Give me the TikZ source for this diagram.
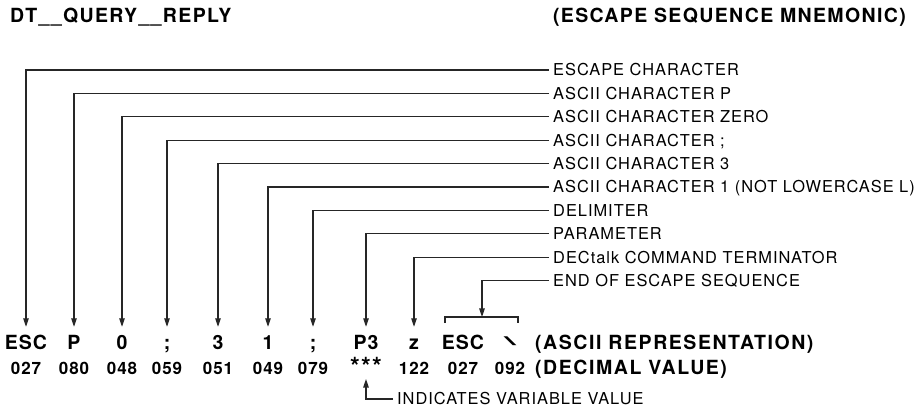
\documentclass[tikz,border=0pt]{standalone}
\usepackage{fontspec}
\setmainfont{TeX Gyre Heros}
\newfontfamily\labfont[LetterSpace=6]{TeX Gyre Heros}
\newfontfamily\rowfont[LetterSpace=5]{TeX Gyre Heros}
\newfontfamily\rlfont[LetterSpace=8]{TeX Gyre Heros}
\newfontfamily\ttlfont[LetterSpace=7]{TeX Gyre Heros}
\usetikzlibrary{arrows.meta}
\begin{document}
\begin{tikzpicture}[x=1pt,y=-1pt,
  conn/.style={line width=1.1pt, draw=black!85},
  arr/.style={conn, -{Triangle[length=8.5pt,width=5.5pt]}},
  ttl/.style={font=\ttlfont\bfseries\fontsize{19.5}{20}\selectfont, inner sep=0pt},
  lab/.style={font=\labfont\fontsize{16.4}{17}\selectfont, anchor=west, text height=11.8pt, text depth=0pt, inner xsep=4pt, inner ysep=0pt},
  ch/.style={font=\rowfont\bfseries\fontsize{19.5}{20}\selectfont, anchor=base, text height=14pt, text depth=0pt, inner xsep=0pt, inner ysep=8pt},
  dec/.style={font=\rowfont\bfseries\fontsize{17}{18}\selectfont, anchor=base, inner sep=0pt},
  rowlab/.style={font=\rlfont\bfseries\fontsize{19.5}{20}\selectfont, anchor=base west, inner sep=0pt}
]
\useasboundingbox (0,0) rectangle (920,411);

% titles
\node[ttl, anchor=base west] (t1) at (10,23) {DT\_\_QUERY\_\_REPLY};
\node[ttl, anchor=base east] (t2) at (906,23) {(ESCAPE SEQUENCE MNEMONIC)};

% ASCII row
\node[ch] (c1) at (26,349) {ESC};
\node[ch] (c2) at (74,349) {P};
\node[ch] (c3) at (122,349) {0};
\node[ch] (c4) at (167,349) {;};
\node[ch] (c5) at (218,349) {3};
\node[ch] (c6) at (268,349) {1};
\node[ch] (c7) at (313,349) {;};
\node[ch] (c8) at (366,349) {P3};
\node[ch] (c9) at (414,349) {z};
\node[ch] (c10) at (463,349) {ESC};
\node[ch, font=\rowfont\bfseries\fontsize{17}{18}\selectfont] (c11) at (510,345.5) {\scalebox{2.3}[0.72]{\textbackslash}};
\node[rowlab] (r1) at (535,349) {(ASCII REPRESENTATION)};

% decimal row
\node[dec] (d1) at (26,374) {027};
\node[dec] (d2) at (74,374) {080};
\node[dec] (d3) at (122,374) {048};
\node[dec] (d4) at (167,374) {059};
\node[dec] (d5) at (218,374) {051};
\node[dec] (d6) at (268,374) {049};
\node[dec] (d7) at (313,374) {079};
\node[dec, font=\rowfont\bfseries\fontsize{25}{25}\selectfont, anchor=south, text depth=0pt] (d8) at (366,376) {***};
\node[dec] (d9) at (414,374) {122};
\node[dec] (d10) at (463,374) {027};
\node[dec] (d11) at (510,374) {092};
\node[rowlab] (r2) at (535,374) {(DECIMAL VALUE)};

% labels
\node[lab] (l1) at (549,70) {ESCAPE CHARACTER};
\node[lab] (l2) at (549,93.4) {ASCII CHARACTER P};
\node[lab] (l3) at (549,116.8) {ASCII CHARACTER ZERO};
\node[lab] (l4) at (549,140.2) {ASCII CHARACTER ;};
\node[lab] (l5) at (549,163.6) {ASCII CHARACTER 3};
\node[lab] (l6) at (549,187) {ASCII CHARACTER 1 (NOT LOWERCASE L)};
\node[lab] (l7) at (549,210.4) {DELIMITER};
\node[lab] (l8) at (549,233.8) {PARAMETER};
\node[lab] (l9) at (549,257.2) {DECtalk COMMAND TERMINATOR};
\node[lab] (l10) at (549,280.6) {END OF ESCAPE SEQUENCE};
\node[lab] (lv) at (393,399) {INDICATES VARIABLE VALUE};

% bracket
\coordinate (bl) at (445,323);
\coordinate (br) at (518,323);
\coordinate (bt) at (482,317);
\draw[conn] (bl) |- (bt) -| (br);

% connectors
\draw[arr] (l1.west) -| (c1.north);
\draw[arr] (l2.west) -| (c2.north);
\draw[arr] (l3.west) -| (c3.north);
\draw[arr] (l4.west) -| (c4.north);
\draw[arr] (l5.west) -| (c5.north);
\draw[arr] (l6.west) -| (c6.north);
\draw[arr] (l7.west) -| (c7.north);
\draw[arr] (l8.west) -| (c8.north);
\draw[arr] (l9.west) -| (c9.north);
\draw[arr] (l10.west) -| (bt);
\draw[arr] (lv.west) -| ([yshift=-3pt]d8.south);
\end{tikzpicture}
\end{document}
